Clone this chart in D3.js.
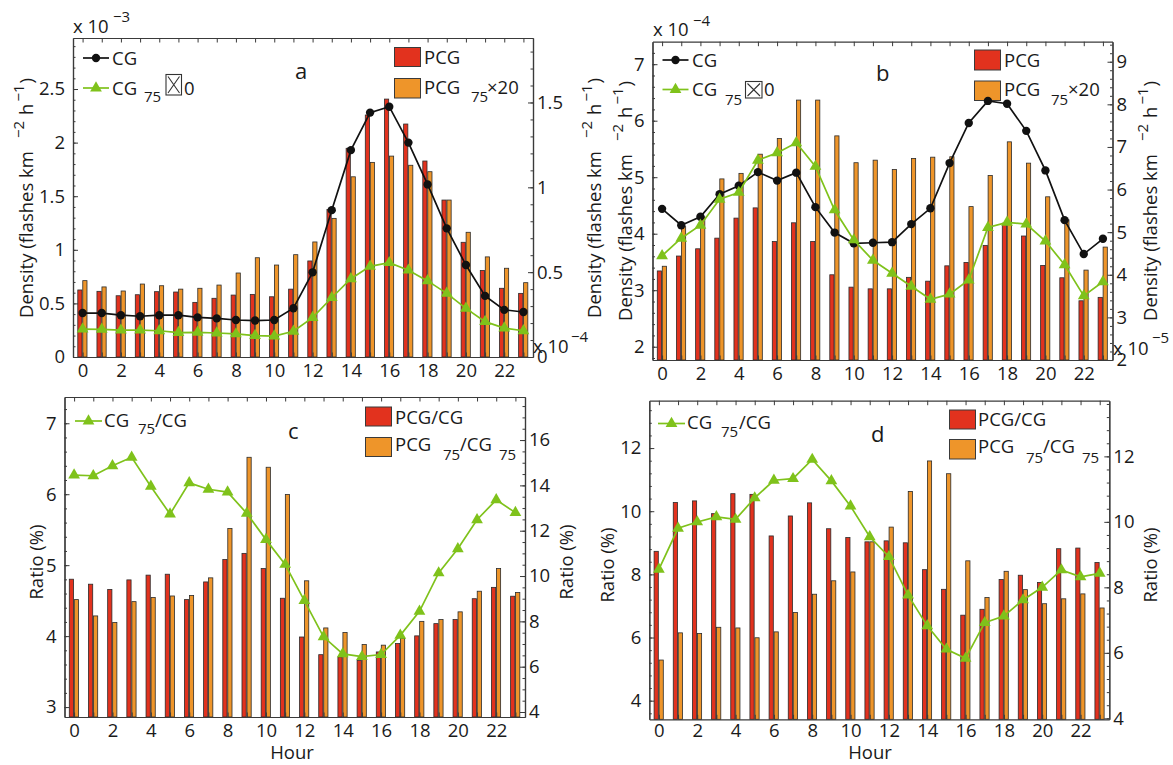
<!DOCTYPE html>
<html>
<head>
<meta charset="utf-8">
<script src="https://cdn.jsdelivr.net/npm/d3@7"></script>
<style>
  body { margin: 0; background: #fff; }
</style>
</head>
<body>
<div id="chart"></div>
<script>
// hours of day
const hours = [0,1,2,3,4,5,6,7,8,9,10,11,12,13,14,15,16,17,18,19,20,21,22,23];
const hourLabels = [0,2,4,6,8,10,12,14,16,18,20,22];

// panel a : densities (left x1e-3, right x1e-4)
const aCG      = [0.41,0.41,0.39,0.38,0.39,0.39,0.37,0.36,0.345,0.34,0.345,0.455,0.79,1.37,1.93,2.28,2.335,2.0,1.61,1.20,0.858,0.57,0.44,0.42];
const aCG75x10 = [0.26,0.258,0.25,0.25,0.245,0.227,0.23,0.224,0.215,0.2,0.195,0.24,0.367,0.553,0.73,0.846,0.88,0.81,0.71,0.594,0.454,0.33,0.27,0.245];
const aPCG     = [0.395,0.387,0.361,0.367,0.385,0.383,0.322,0.346,0.365,0.369,0.355,0.40,0.566,0.87,1.23,1.426,1.52,1.373,1.155,0.925,0.676,0.51,0.405,0.375];
const aPCG75x20= [0.45,0.413,0.389,0.43,0.42,0.40,0.405,0.424,0.495,0.585,0.542,0.603,0.678,0.817,1.062,1.147,1.184,1.13,1.092,0.925,0.735,0.59,0.523,0.438];

// panel b : densities (left x1e-4, right x1e-5)
const bCG      = [4.44,4.15,4.30,4.70,4.85,5.09,4.94,5.08,4.47,4.02,3.83,3.84,3.85,4.17,4.45,5.25,5.96,6.35,6.30,5.82,5.12,4.24,3.64,3.91];
const bCG75x10 = [3.61,3.92,4.15,4.61,4.73,5.30,5.43,5.61,5.19,4.42,3.89,3.53,3.30,3.07,2.84,2.93,3.18,4.11,4.20,4.17,3.87,3.45,2.90,3.15];
const bPCG     = [4.09,4.44,4.61,4.86,5.33,5.57,4.78,5.22,4.78,4.0,3.71,3.67,3.67,3.94,3.85,4.21,4.29,4.69,5.21,4.91,4.22,3.93,3.39,3.47];
const bPCG75x20= [4.2,5.13,5.36,6.25,6.38,6.83,7.2,8.10,8.10,7.26,6.63,6.69,6.47,6.73,6.76,6.77,5.6,6.33,7.12,6.62,5.83,5.29,4.11,4.65];

// panel c : ratios (%)
const cCG75CG    = [6.27,6.26,6.40,6.52,6.11,5.72,6.16,6.07,6.03,5.73,5.36,5.01,4.50,3.99,3.75,3.71,3.74,4.01,4.35,4.89,5.23,5.64,5.92,5.74];
const cPCGCG     = [9.86,9.64,9.41,9.83,10.04,10.08,8.96,9.74,10.73,11.0,10.33,9.02,7.31,6.53,6.43,6.28,6.65,7.02,7.36,7.9,8.08,9.0,9.5,9.11];
const cPCG75CG75 = [8.96,8.24,7.95,8.87,9.05,9.12,9.14,9.92,12.1,15.24,14.8,13.6,9.79,7.71,7.51,6.98,6.95,7.24,8.0,8.08,8.42,9.33,10.33,9.27];

// panel d : ratios (%)
const dCG75CG    = [8.16,9.46,9.66,9.82,9.74,10.42,10.98,11.03,11.64,10.96,10.16,9.19,8.56,7.34,6.37,5.63,5.34,6.47,6.68,7.19,7.59,8.14,7.92,8.03];
const dPCGCG     = [9.10,10.59,10.64,10.25,10.86,10.84,9.57,10.18,10.58,9.79,9.52,9.39,9.42,9.36,8.54,7.94,7.15,7.33,8.24,8.37,8.15,9.18,9.2,8.76];
const dPCG75CG75 = [5.78,6.61,6.59,6.78,6.76,6.46,6.64,7.23,7.79,8.2,8.47,9.39,9.84,10.93,11.86,11.47,8.81,7.69,8.49,7.93,7.5,7.65,7.8,7.37];

// tick labels
const aLeftTicks = [0,0.5,1,1.5,2,2.5], aRightTicks = [0,0.5,1,1.5];
const bLeftTicks = [2,3,4,5,6,7],       bRightTicks = [2,3,4,5,6,7,8,9];
const cLeftTicks = [3,4,5,6,7],         cRightTicks = [4,6,8,10,12,14,16];
const dLeftTicks = [4,6,8,10,12],       dRightTicks = [4,6,8,10,12];

const W = 1173, H = 765;
const FONT = '"Open Sans", "Noto Sans", sans-serif';
const FS = 18.5;
const red = "#e2321e", orange = "#ee952a", green = "#7fc21b", frame = "#3a3a3a";

const svg = d3.select("#chart").append("svg")
    .attr("width", W).attr("height", H)
    .attr("viewBox", `0 0 ${W} ${H}`);
svg.append("rect").attr("width", W).attr("height", H).attr("fill", "#fff");

function txt(g, x, y, s, fs, opts) {
    opts = opts || {};
    const t = g.append("text").attr("x", x).attr("y", y)
        .attr("font-family", opts.family || FONT)
        .attr("font-size", fs || FS).attr("fill", "#1a1a1a")
        .text(s);
    if (opts.anchor) t.attr("text-anchor", opts.anchor);
    return t;
}

// rotated label with tspans (superscripts go to the left)
function vlabel(g, x, y, parts) {
    const t = g.append("text")
        .attr("transform", `translate(${x},${y}) rotate(-90)`)
        .attr("text-anchor", "middle")
        .attr("font-family", FONT).attr("font-size", FS).attr("fill", "#1a1a1a");
    parts.forEach(p => {
        const s = t.append("tspan").text(p.t);
        if (p.dx) s.attr("dx", p.dx);
        if (p.dy) s.attr("dy", p.dy);
        if (p.fs) s.attr("font-size", p.fs);
    });
}
const densityParts = [
    {t: "Density (flashes km"},
    {t: "\u22122", dx: 13, dy: -9, fs: 15},
    {t: "h", dx: 6, dy: 9},
    {t: "\u22121", dx: 2, dy: -9, fs: 15},
    {t: ")", dx: 1, dy: 9}
];
const ratioParts = [{t: "Ratio (%)"}];

function styleAxis(sel) {
    sel.attr("font-family", FONT).attr("font-size", FS);
    sel.selectAll("path.domain").attr("stroke", frame).attr("stroke-width", 1.2);
    sel.selectAll(".tick line").attr("stroke", frame).attr("stroke-width", 1);
    sel.selectAll(".tick text").attr("fill", "#1a1a1a");
}

function minorRange(domain, step) {
    const lo = Math.ceil(domain[0] / step - 1e-6), hi = Math.floor(domain[1] / step + 1e-6);
    return d3.range(lo, hi + 1).map(k => +(k * step).toFixed(4));
}

function drawPanel(p) {
    const g = svg.append("g");
    const x = d3.scaleLinear().domain([-0.5, 23.5]).range(p.xr);
    const yL = d3.scaleLinear().domain(p.yL).range(p.yr);
    const yR = d3.scaleLinear().domain(p.yR).range(p.yr);
    const bottom = p.yr[0], top = p.yr[1];
    const bw = x(0.22) - x(0);

    // legends first (marks drawn over them)
    p.legend(g);

    // bars on right axis
    p.bars.forEach(b => {
        g.append("g").selectAll("rect").data(b.values).join("rect")
            .attr("x", (d, i) => x(hours[i] + b.off) - bw / 2)
            .attr("y", d => yR(d))
            .attr("width", bw)
            .attr("height", d => bottom - yR(d))
            .attr("fill", b.color)
            .attr("stroke", "#2b2b2b").attr("stroke-width", 0.8);
    });

    // lines on left axis
    p.lines.forEach(l => {
        const line = d3.line().x((d, i) => x(hours[i])).y(d => yL(d));
        g.append("path").datum(l.values).attr("d", line)
            .attr("fill", "none").attr("stroke", l.color).attr("stroke-width", 1.7);
        const sym = d3.symbol().type(l.marker === "circle" ? d3.symbolCircle : d3.symbolTriangle)
            .size(l.marker === "circle" ? 55 : 60);
        g.append("g").selectAll("path").data(l.values).join("path")
            .attr("transform", (d, i) => `translate(${x(hours[i])},${yL(d)})`)
            .attr("d", sym)
            .attr("fill", l.color);
    });

    // axes
    const fmt = d3.format("~g");
    g.append("g").attr("transform", `translate(${p.xr[0]},0)`)
        .call(d3.axisLeft(yL).tickValues(p.lTicks).tickFormat(fmt)
            .tickSizeInner(-5).tickSizeOuter(0).tickPadding(8))
        .call(styleAxis);
    g.append("g").attr("transform", `translate(${p.xr[0]},0)`)
        .call(d3.axisLeft(yL).tickValues(minorRange(p.yL, p.lMinor)).tickFormat("")
            .tickSizeInner(-2.5).tickSizeOuter(0))
        .call(styleAxis);
    g.append("g").attr("transform", `translate(${p.xr[1]},0)`)
        .call(d3.axisRight(yR).tickValues(p.rTicks).tickFormat(fmt)
            .tickSizeInner(-5).tickSizeOuter(0).tickPadding(4))
        .call(styleAxis);
    g.append("g").attr("transform", `translate(${p.xr[1]},0)`)
        .call(d3.axisRight(yR).tickValues(minorRange(p.yR, p.rMinor)).tickFormat("")
            .tickSizeInner(-2.5).tickSizeOuter(0))
        .call(styleAxis);
    g.append("g").attr("transform", `translate(0,${top})`)
        .call(d3.axisTop(x).tickValues(hours).tickFormat("").tickSizeInner(-4.5).tickSizeOuter(0))
        .call(styleAxis);
    g.append("g").attr("transform", `translate(0,${bottom})`)
        .call(d3.axisBottom(x).tickValues(hours)
            .tickFormat(d => hourLabels.includes(d) ? d : "")
            .tickSizeInner(-4.5).tickSizeOuter(0).tickPadding(p.xPad || 7))
        .call(styleAxis);

    p.labels(g);
}

// legend helpers
function lineKey(g, x0, x1, y, color, marker) {
    g.append("line").attr("x1", x0).attr("x2", x1).attr("y1", y).attr("y2", y)
        .attr("stroke", color).attr("stroke-width", 1.7);
    const sym = d3.symbol().type(marker === "circle" ? d3.symbolCircle : d3.symbolTriangle)
        .size(marker === "circle" ? 55 : 60);
    g.append("path").attr("transform", `translate(${(x0 + x1) / 2},${y})`)
        .attr("d", sym).attr("fill", color);
}
function boxKey(g, x, y, w, h, color) {
    g.append("rect").attr("x", x).attr("y", y).attr("width", w).attr("height", h)
        .attr("fill", color).attr("stroke", "#3a3a3a").attr("stroke-width", 1);
}
// the missing-glyph box that stands in for "x1" in the source figure
function glyphBox(g, x, y, w, h) {
    const s = g.append("g").attr("stroke", "#333").attr("stroke-width", 1.1).attr("fill", "none");
    s.append("rect").attr("x", x).attr("y", y).attr("width", w).attr("height", h);
    s.append("path").attr("d", `M${x + 2},${y + 2}L${x + w - 2},${y + h - 2}M${x + w - 2},${y + 2}L${x + 2},${y + h - 2}`);
}

// ---- panel a ----
drawPanel({
    xr: [73, 533], yr: [357, 38],
    yL: [0, 2.976], yR: [0, 1.88],
    lTicks: aLeftTicks, rTicks: aRightTicks, lMinor: 0.1, rMinor: 0.1,
    bars: [{values: aPCG, color: red, off: -0.14}, {values: aPCG75x20, color: orange, off: 0.12}],
    lines: [{values: aCG, color: "#111", marker: "circle"}, {values: aCG75x10, color: green, marker: "tri"}],
    legend: g => {
        lineKey(g, 83, 109, 58, "#111", "circle");
        txt(g, 112, 64.5, "CG");
        lineKey(g, 83, 109, 88, green, "tri");
        txt(g, 112, 94.5, "CG");
        txt(g, 144, 102, "75", 15);
        glyphBox(g, 166, 74.5, 15.5, 20.5);
        txt(g, 184, 94.5, "0");
        boxKey(g, 394.5, 47.5, 26, 19, red);
        txt(g, 424, 64, "PCG");
        boxKey(g, 394.5, 78.5, 26, 19.5, orange);
        txt(g, 424, 93.5, "PCG");
        txt(g, 471, 102, "75", 15);
        txt(g, 487, 93.5, "\u00d720");
        txt(g, 295, 79, "a", 22);
    },
    labels: g => {
        txt(g, 73, 33, "x 10");
        txt(g, 113, 22, "\u22123", 15);
        txt(g, 533, 353, "x 10");
        txt(g, 571, 342, "\u22124", 15);
        vlabel(g, 33, 198, densityParts);
        vlabel(g, 601, 198, densityParts);
    }
});

// ---- panel b ----
drawPanel({
    xr: [652.5, 1112.5], yr: [360, 41.7],
    yL: [1.765, 7.398], yR: [2, 9.47],
    lTicks: bLeftTicks, rTicks: bRightTicks, lMinor: 0.2, rMinor: 0.2,
    bars: [{values: bPCG, color: red, off: -0.14}, {values: bPCG75x20, color: orange, off: 0.12}],
    lines: [{values: bCG, color: "#111", marker: "circle"}, {values: bCG75x10, color: green, marker: "tri"}],
    legend: g => {
        lineKey(g, 662.5, 688.5, 60, "#111", "circle");
        txt(g, 692, 66.5, "CG");
        lineKey(g, 662.5, 688.5, 89.5, green, "tri");
        txt(g, 692, 95.5, "CG");
        txt(g, 725, 105, "75", 15);
        glyphBox(g, 745.5, 81.5, 16.5, 16.5);
        txt(g, 764, 95.5, "0");
        boxKey(g, 974.5, 50, 26, 20, red);
        txt(g, 1004, 66.5, "PCG");
        boxKey(g, 974.5, 81, 26, 19.5, orange);
        txt(g, 1004, 95.5, "PCG");
        txt(g, 1051, 105, "75", 15);
        txt(g, 1068, 95.5, "\u00d720");
        txt(g, 876, 81, "b", 22);
    },
    labels: g => {
        txt(g, 653, 36, "x 10");
        txt(g, 693, 26, "\u22124", 15);
        txt(g, 1113, 355, "x 10");
        txt(g, 1152, 343, "\u22125", 15);
        vlabel(g, 632, 201, densityParts);
        vlabel(g, 1157, 201, densityParts);
    }
});

// ---- panel c ----
drawPanel({
    xr: [64.5, 525], yr: [717, 397],
    yL: [2.86, 7.37], yR: [3.78, 17.9],
    lTicks: cLeftTicks, rTicks: cRightTicks, lMinor: 0.2, rMinor: 0.5,
    bars: [{values: cPCGCG, color: red, off: -0.14}, {values: cPCG75CG75, color: orange, off: 0.12}],
    lines: [{values: cCG75CG, color: green, marker: "tri"}],
    legend: g => {
        lineKey(g, 75, 102, 421, green, "tri");
        txt(g, 104, 426.5, "CG");
        txt(g, 138, 434, "75", 15);
        txt(g, 155, 426.5, "/CG");
        boxKey(g, 365.5, 407, 26, 19, red);
        txt(g, 395, 424, "PCG/CG");
        boxKey(g, 365.5, 437.5, 26, 19, orange);
        txt(g, 395, 451, "PCG");
        txt(g, 443, 460, "75", 15);
        txt(g, 460, 451, "/CG");
        txt(g, 499, 460, "75", 15);
        txt(g, 288, 439, "c", 22);
    },
    labels: g => {
        vlabel(g, 43, 562, ratioParts);
        vlabel(g, 573, 562, ratioParts);
        txt(g, 292, 759, "Hour", FS, {anchor: "middle"});
    }
});

// ---- panel d ----
drawPanel({
    xr: [649.3, 1109.3], yr: [719.3, 400.7], xPad: 5,
    yL: [3.41, 13.5], yR: [3.97, 13.7],
    lTicks: dLeftTicks, rTicks: dRightTicks, lMinor: 0.4, rMinor: 0.4,
    bars: [{values: dPCGCG, color: red, off: -0.14}, {values: dPCG75CG75, color: orange, off: 0.12}],
    lines: [{values: dCG75CG, color: green, marker: "tri"}],
    legend: g => {
        lineKey(g, 658, 685, 423.5, green, "tri");
        txt(g, 687, 429, "CG");
        txt(g, 721, 437, "75", 15);
        txt(g, 739, 429, "/CG");
        boxKey(g, 949.5, 410, 26, 19, red);
        txt(g, 978, 426, "PCG/CG");
        boxKey(g, 949.5, 439.5, 26, 19.5, orange);
        txt(g, 978, 453, "PCG");
        txt(g, 1026, 462.5, "75", 15);
        txt(g, 1043, 453, "/CG");
        txt(g, 1082, 462.5, "75", 15);
        txt(g, 871, 442, "d", 22);
    },
    labels: g => {
        vlabel(g, 614, 565, ratioParts);
        vlabel(g, 1157, 565, ratioParts);
        txt(g, 870, 759, "Hour", FS, {anchor: "middle"});
    }
});
</script>
</body>
</html>
